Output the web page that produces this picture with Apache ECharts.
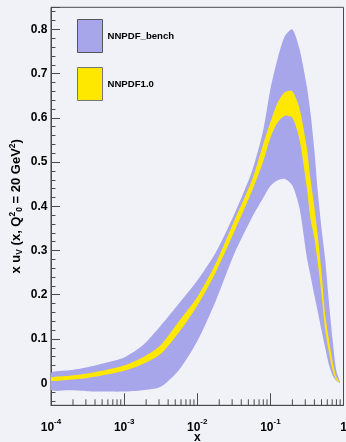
<!DOCTYPE html>
<html>
<head>
<meta charset="utf-8">
<script src="https://cdn.jsdelivr.net/npm/echarts@6/dist/echarts.min.js"></script>
<style>
html,body{margin:0;padding:0;background:#f1f2f8;}
#chart{width:346px;height:442px;}
</style>
</head>
<body>
<div id="chart"></div>
<script>
// x values (log-spaced sample points)
var xVals = [0.0001, 0.000178, 0.000316, 0.000562, 0.001, 0.00178, 0.00316, 0.00562, 0.01, 0.0178, 0.0316, 0.0562, 0.0794, 0.1, 0.126, 0.158, 0.2, 0.251, 0.316, 0.355, 0.398, 0.447, 0.501, 0.562, 0.631, 0.708, 0.794, 0.891];
// NNPDF_bench band
var benchUpper = [0.023, 0.029, 0.036, 0.046, 0.058, 0.085, 0.13, 0.18, 0.232, 0.295, 0.38, 0.48, 0.57, 0.665, 0.735, 0.785, 0.80, 0.755, 0.67, 0.61, 0.53, 0.43, 0.35, 0.28, 0.185, 0.10, 0.03, 0.004];
var benchLower = [-0.015, -0.016, -0.018, -0.019, -0.019, -0.016, -0.008, 0.03, 0.095, 0.185, 0.29, 0.375, 0.418, 0.446, 0.459, 0.462, 0.447, 0.395, 0.283, 0.242, 0.20, 0.16, 0.119, 0.08, 0.042, 0.018, 0.006, 0.0];
// NNPDF1.0 band
var nnUpper = [0.013, 0.017, 0.022, 0.030, 0.040, 0.058, 0.086, 0.14, 0.195, 0.27, 0.365, 0.46, 0.54, 0.59, 0.635, 0.658, 0.66, 0.62, 0.53, 0.46, 0.40, 0.33, 0.25, 0.155, 0.10, 0.05, 0.015, 0.002];
var nnLower = [0.005, 0.008, 0.012, 0.019, 0.028, 0.043, 0.066, 0.115, 0.175, 0.25, 0.34, 0.435, 0.50, 0.555, 0.59, 0.605, 0.60, 0.55, 0.44, 0.37, 0.33, 0.27, 0.20, 0.12, 0.07, 0.03, 0.008, 0.001];
var seriesNames = ['NNPDF_bench', 'NNPDF1.0'];
var yTickValues = [0, 0.1, 0.2, 0.3, 0.4, 0.5, 0.6, 0.7, 0.8];
var decades = [0.0001, 0.001, 0.01, 0.1];
var minorMult = [2, 3, 4, 5, 6, 7, 8, 9];

var FONT = 'Liberation Sans, Arial, Helvetica, sans-serif';
var PURPLE = '#a8a6ea';
var YELLOW = '#ffe800';
var AXC = '#4a4a4a';
var Y_MIN = -0.05, Y_MAX = 0.85;

var minorTicks = [];
decades.forEach(function (d) { minorMult.forEach(function (m) { minorTicks.push([+(d * m).toPrecision(3), Y_MIN]); }); });

function bandRenderer(upper, lower, color) {
  return function (params, api) {
    if (params.dataIndex !== 0) return null;
    var pts = [];
    for (var i = 0; i < xVals.length; i++) pts.push(api.coord([xVals[i], upper[i]]));
    for (var j = xVals.length - 1; j >= 0; j--) pts.push(api.coord([xVals[j], lower[j]]));
    return {
      type: 'polygon',
      shape: {points: pts, smooth: 0.25},
      style: {fill: color, stroke: null}
    };
  };
}
function bandData(upper, lower) { return xVals.map(function (x, i) { return [x, lower[i], upper[i]]; }); }

var chart = echarts.init(document.getElementById('chart'), null, {renderer: 'canvas'});
var option = {
  backgroundColor: '#f1f2f8',
  animation: false,
  textStyle: {fontFamily: FONT},
  grid: {left: 51, right: 2.5, top: 7.3, bottom: 36.7, show: true, borderColor: AXC, borderWidth: 1,
    backgroundColor: 'transparent', containLabel: false, outerBoundsMode: 'none'},
  legend: {
    orient: 'vertical', left: 77, top: 19, padding: 0, itemWidth: 25, itemHeight: 33, itemGap: 14,
    selectedMode: false,
    textStyle: {fontFamily: FONT, fontWeight: 'bold', fontSize: 9.6, color: '#000'},
    data: [
      {name: seriesNames[0], icon: 'rect', itemStyle: {color: PURPLE, borderColor: '#555', borderWidth: 1}},
      {name: seriesNames[1], icon: 'rect', itemStyle: {color: YELLOW, borderColor: '#777', borderWidth: 1}}
    ]
  },
  xAxis: {
    type: 'log', logBase: 10, min: 0.0001, max: 1,
    name: 'x', nameLocation: 'middle', nameGap: 26, nameMoveOverlap: false,
    nameTextStyle: {fontFamily: FONT, fontWeight: 'bold', fontSize: 12, color: '#000'},
    axisLine: {show: true, onZero: false, lineStyle: {color: AXC, width: 1}},
    axisTick: {show: true, inside: true, length: 12, lineStyle: {color: AXC}},
    minorTick: {show: false},
    splitLine: {show: false},
    axisLabel: {
      margin: 12,
      formatter: function (v) {
        var e = Math.round(Math.log(v) / Math.LN10);
        return e === 0 ? '{b|1}' : '{b|10}{s|' + e + '}';
      },
      rich: {
        b: {fontFamily: FONT, fontWeight: 'bold', fontSize: 12, color: '#000', lineHeight: 16, verticalAlign: 'bottom'},
        s: {fontFamily: FONT, fontWeight: 'bold', fontSize: 8, color: '#000', lineHeight: 16, verticalAlign: 'top'}
      }
    }
  },
  yAxis: [
    {
      type: 'value', min: Y_MIN, max: Y_MAX, minInterval: 0.1, maxInterval: 0.1,
      name: 'x u{sub|V} (x, Q{sup|2}{sub|0} = 20 GeV{sup|2})',
      nameLocation: 'middle', nameRotate: 90, nameGap: 27, nameMoveOverlap: false,
      nameTextStyle: {
        fontFamily: FONT, fontWeight: 'bold', fontSize: 13, color: '#000', lineHeight: 16,
        rich: {
          sub: {fontFamily: FONT, fontWeight: 'bold', fontSize: 8.5, color: '#000', lineHeight: 16, verticalAlign: 'bottom'},
          sup: {fontFamily: FONT, fontWeight: 'bold', fontSize: 8.5, color: '#000', lineHeight: 16, verticalAlign: 'top'}
        }
      },
      axisLine: {show: true, onZero: false, lineStyle: {color: AXC, width: 1}},
      axisTick: {show: true, inside: true, length: 9, lineStyle: {color: AXC}},
      splitLine: {show: false},
      axisLabel: {
        margin: 3.5, fontFamily: FONT, fontWeight: 'bold', fontSize: 12, color: '#000',
        formatter: function (v) {
          for (var i = 0; i < yTickValues.length; i++) {
            if (Math.abs(v - yTickValues[i]) < 1e-9) return String(yTickValues[i]);
          }
          return '';
        }
      }
    },
    {
      type: 'value', min: Y_MIN, max: Y_MAX, minInterval: 0.02, maxInterval: 0.02,
      position: 'left',
      axisLine: {show: false, onZero: false},
      axisTick: {show: true, inside: true, length: 4.5, lineStyle: {color: AXC}},
      axisLabel: {show: false},
      splitLine: {show: false}
    }
  ],
  series: [
    {name: seriesNames[0], type: 'custom', clip: true, silent: true,
      itemStyle: {color: PURPLE},
      encode: {x: 0, y: [1, 2]},
      data: bandData(benchUpper, benchLower),
      renderItem: bandRenderer(benchUpper, benchLower, PURPLE)},
    {name: seriesNames[1], type: 'custom', clip: true, silent: true,
      itemStyle: {color: YELLOW},
      encode: {x: 0, y: [1, 2]},
      data: bandData(nnUpper, nnLower),
      renderItem: bandRenderer(nnUpper, nnLower, YELLOW)},
    {name: 'minorXTicks', type: 'custom', silent: true, z: 5,
      encode: {x: 0, y: 1},
      data: minorTicks,
      renderItem: function (params, api) {
        var p = api.coord([api.value(0), api.value(1)]);
        return {type: 'line', shape: {x1: p[0], y1: p[1], x2: p[0], y2: p[1] - 6},
          style: {stroke: AXC, lineWidth: 1}};
      }}
  ]
};
chart.setOption(option);
</script>
</body>
</html>
